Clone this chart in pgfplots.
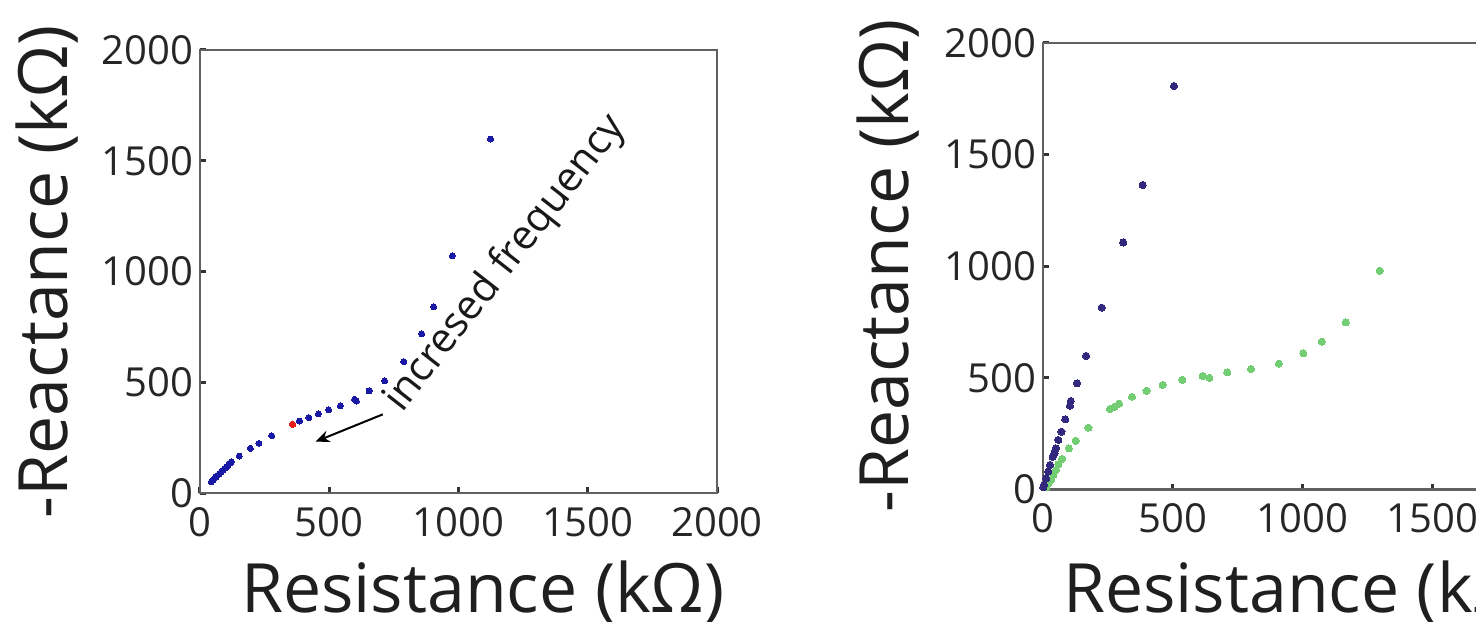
\documentclass[border=0pt]{standalone}
\usepackage{fontspec}
\setmainfont{Open Sans}
\usepackage{pgfplots}
\pgfplotsset{compat=1.18}
\usetikzlibrary{arrows.meta}
\definecolor{lblue}{RGB}{25,25,165}
\definecolor{lred}{RGB}{230,30,30}
\definecolor{navy}{RGB}{50,40,125}
\definecolor{lgreen}{RGB}{115,205,115}
\tikzset{labfont/.style={font=\fontsize{34}{36}\selectfont, text=black!88}}
\pgfplotsset{
  myax/.style={
    scale only axis, clip=false,
    xmin=0, xmax=2000, ymin=0, ymax=2000,
    xtick={0,500,1000,1500,2000}, ytick={0,500,1000,1500,2000},
    scaled ticks=false,
    /pgf/number format/1000 sep={},
    /pgf/number format/assume math mode=true,
    tick align=inside, xtick pos=left, ytick pos=left,
    major tick length=3pt,
    axis line style={black!62, line width=1.1pt},
    tick style={black!80, line width=1.5pt},
    ticklabel style={font=\fontsize{20}{21}\selectfont, text=black!85},
    xticklabel style={yshift=-3.5pt},
  },
}
\begin{document}
\begin{tikzpicture}
\begin{axis}[myax,
  at={(100pt,64pt)}, anchor=south west,
  width=258.5pt, height=221.5pt,
  xlabel={Resistance (kΩ)}, ylabel={-Reactance (kΩ)},
  every axis x label/.style={at={(axis description cs:0.066,-0.269)}, anchor=base west, labfont},
  every axis y label/.style={at={(axis description cs:-0.257,0.5)}, rotate=90, anchor=base, labfont},
]
\addplot[only marks, mark=*, color=lblue, mark size=1.5pt, mark options={line width=0pt}] coordinates {
(44,51) (50,58) (56,65) (62,72) (68,79) (75,87) (82,95) (89,103) (96,111) (103,119) (110,127) (116,134) (121,141)
(152,167) (195,202) (228,224) (277,259)
(385,325) (421,340) (458,357) (498,375) (543,394) (598,423) (605,415) (654,461) (714,507) (788,593) (858,718) (904,841) (976,1070) (1124,1598)
};
\addplot[only marks, mark=*, color=lred, mark size=1.6pt, mark options={line width=0pt}] coordinates {(358,310)};
\draw[black, line width=1pt, -{Stealth[length=7pt,width=6pt]}] (axis cs:707,355) -- (axis cs:447,232);
\node[rotate=52, anchor=base, font=\fontsize{20.5}{22}\selectfont, text=black!90] at (axis cs:1215,1005) {incresed frequency};
\end{axis}
\begin{axis}[myax,
  at={(521.5pt,65.75pt)}, anchor=south west,
  width=259.5pt, height=223.4pt,
  xlabel={Resistance (kΩ)}, ylabel={-Reactance (kΩ)},
  every axis x label/.style={at={(axis description cs:0.025,-0.275)}, anchor=base west, labfont},
  every axis y label/.style={at={(axis description cs:-0.260,0.5)}, rotate=90, anchor=base, labfont},
]
\addplot[only marks, mark=*, color=lgreen, mark size=1.8pt, mark options={line width=0pt}] coordinates {
(12,10) (20,25) (31,43) (40,65) (50,87) (59,113) (74,137) (100,184) (126,218) (175,277)
(258,360) (277,371) (293,384) (343,415) (399,442) (461,468) (537,491) (615,508) (641,500) (710,525) (801,539) (909,563) (1003,610) (1074,662) (1167,748) (1298,979)
};
\addplot[only marks, mark=*, color=navy, mark size=1.8pt, mark options={line width=0pt}] coordinates {
(1,10) (4,20) (12,50) (20,80) (27,110) (37,147) (44,162) (50,184) (59,222) (71,259) (86,314) (104,375) (107,396) (131,475) (166,598) (226,814) (309,1106) (384,1363) (505,1806)
};
\end{axis}
\pgfresetboundingbox
\path[use as bounding box] (0,0) rectangle (738pt,310.5pt);
\end{tikzpicture}
\end{document}
